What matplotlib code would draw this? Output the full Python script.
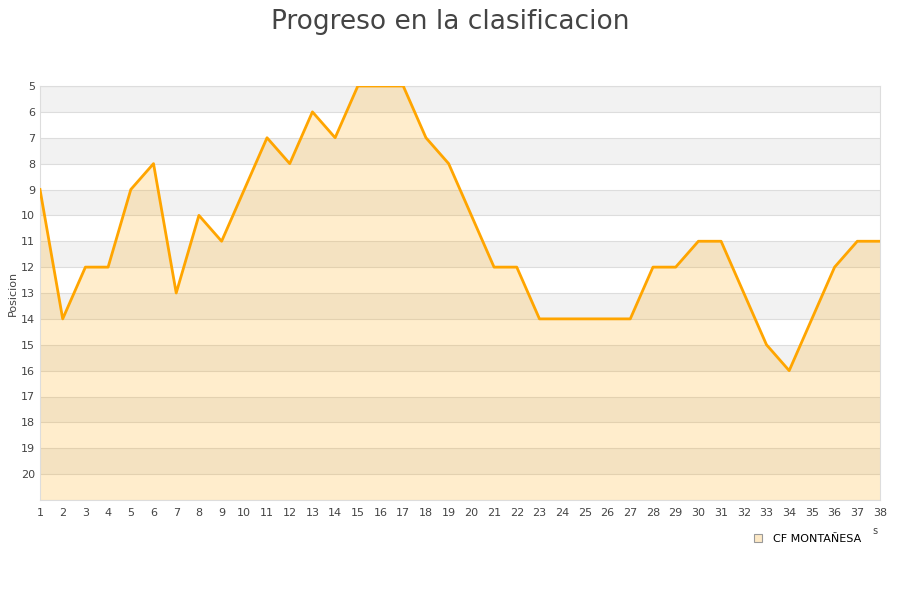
import matplotlib
matplotlib.use("Agg")
import matplotlib.pyplot as plt
from matplotlib.lines import Line2D

jornadas = list(range(1, 39))
posiciones = [9, 14, 12, 12, 9, 8, 13, 10, 11, 9, 7, 8, 6, 7, 5, 5, 5, 7, 8, 10,
              12, 12, 14, 14, 14, 14, 14, 12, 12, 11, 11, 13, 15, 16, 14, 12, 11, 11]
equipo = "CF MONTAÑESA"

fig = plt.figure(figsize=(9, 6), dpi=100)
ax = fig.add_axes([40 / 900, 100 / 600, 840 / 900, 414 / 600])

# alternating bands
for y in range(5, 21, 2):
    ax.axhspan(y, y + 1, color="#f2f2f2", zorder=0, lw=0)
for y in range(5, 22):
    ax.axhline(y, color="#dddddd", lw=0.8, zorder=1)

ax.fill_between(jornadas, posiciones, 21, color="#ffa500", alpha=0.2, lw=0, zorder=2)
ax.plot(jornadas, posiciones, color="#ffa500", lw=2, zorder=3)

ax.set_xlim(1, 38)
ax.set_ylim(21, 5)
ax.set_xticks(jornadas)
ax.set_yticks(range(5, 21))
ax.tick_params(axis="both", length=0, labelsize=8, colors="#444444")
ax.tick_params(axis="x", pad=6)
for s in ax.spines.values():
    s.set_color("#dddddd")

ax.set_ylabel("Posicion", fontsize=8, color="#444444", labelpad=2)
fig.suptitle("Progreso en la clasificacion", fontsize=19, color="#444444", y=0.985)

fig.text(875 / 900, 1 - 531 / 600, "s", fontsize=7, color="#444444", ha="center", va="center")

handle = Line2D([], [], marker="s", linestyle="none", markersize=6,
                markerfacecolor="#fde9c6", markeredgecolor="#999999", markeredgewidth=0.8)
fig.legend([handle], [equipo], loc="center right", bbox_to_anchor=(866 / 900, 1 - 539 / 600),
           frameon=False, fontsize=8, handletextpad=0.4, borderaxespad=0)

fig.savefig("out.png", dpi=100)
